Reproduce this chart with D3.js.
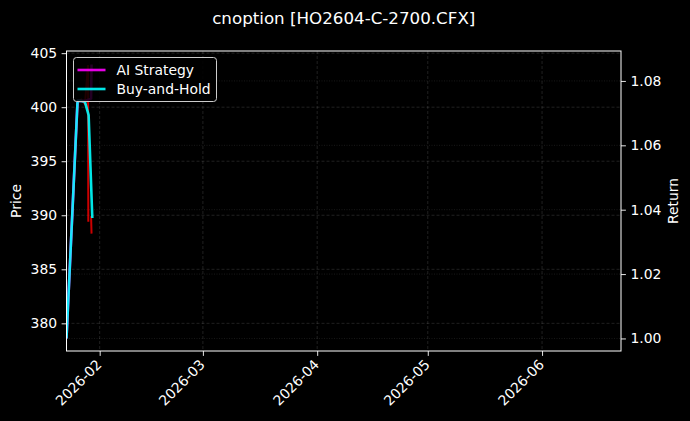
<!DOCTYPE html>
<html>
<head>
<meta charset="utf-8">
<script src="https://cdn.jsdelivr.net/npm/d3@7"></script>
<style>
  body { margin: 0; background: #000; }
  svg { display: block; }
  text { font-family: "DejaVu Sans", sans-serif; fill: #fff; }
</style>
</head>
<body>
<svg width="690" height="421"></svg>
<script>
// ---- data ----
const title = "cnoption [HO2604-C-2700.CFX]"
const xRange = ["2026-01-23 00:00", "2026-06-22 10:00"]
const xTicks = ["2026-02-01 00:00", "2026-03-01 00:00", "2026-04-01 00:00", "2026-05-01 00:00", "2026-06-01 00:00"]

const priceRange = [377.44, 405.2]
const priceTicks = [380, 385, 390, 395, 400, 405]
const returnRange = [0.9961, 1.0893]
const returnTicks = [1.00, 1.02, 1.04, 1.06, 1.08]

// option price (left axis), null = trading break
const priceTimes = ["2026-01-23 00:00", "2026-01-26 00:00", "2026-01-27 00:00", "2026-01-28 00:00",
                    "2026-01-28 20:00", "2026-01-28 22:00", "2026-01-29 04:00", "2026-01-29 16:00", "2026-01-29 19:00"]
const priceVals = [378.7, 400.5, 400.7, 400.3, 403.9, 389.4, null, 389.9, 388.3]

// AI strategy equity (right axis)
const aiTimes = ["2026-01-23 00:00", "2026-01-26 00:00", "2026-01-27 00:00", "2026-01-28 00:00",
                 "2026-01-29 16:00", "2026-01-29 19:00"]
const aiVals = [1.000, 1.0738, 1.0738, 1.0738, 1.0745, 1.0851]

// buy-and-hold equity (right axis)
const bhTimes = ["2026-01-23 00:00", "2026-01-26 00:00", "2026-01-27 00:00", "2026-01-28 00:00",
                 "2026-01-29 00:00", "2026-01-30 00:00"]
const bhVals = [1.000, 1.0738, 1.0738, 1.0735, 1.0694, 1.0374]

const legendNames = ["AI Strategy", "Buy-and-Hold"]
const legendColors = ["#ff00ff", "#00ffff"]

// ---- layout ----
const parse = d3.timeParse("%Y-%m-%d %H:%M")
const W = 690, H = 421
const L = 66.5, R = 621, T = 51, B = 351
const fs = 13.9

const svg = d3.select("svg")
svg.append("rect").attr("width", W).attr("height", H).attr("fill", "#000")

const x = d3.scaleTime().domain(xRange.map(parse)).range([L, R])
const yP = d3.scaleLinear().domain(priceRange).range([B, T])
const yR = d3.scaleLinear().domain(returnRange).range([B, T])

// grids
const grid = svg.append("g").attr("stroke", "#fff").attr("stroke-width", 0.5)
grid.selectAll(".gx").data(xTicks.map(parse)).join("line").attr("class", "gx")
  .attr("x1", d => x(d)).attr("x2", d => x(d)).attr("y1", T).attr("y2", B)
  .attr("stroke-opacity", 0.25).attr("stroke-dasharray", "3,2")
grid.selectAll(".gp").data(priceTicks).join("line").attr("class", "gp")
  .attr("x1", L).attr("x2", R).attr("y1", d => yP(d)).attr("y2", d => yP(d))
  .attr("stroke-opacity", 0.25).attr("stroke-dasharray", "3,2")
grid.selectAll(".gr").data(returnTicks).join("line").attr("class", "gr")
  .attr("x1", L).attr("x2", R).attr("y1", d => yR(d)).attr("y2", d => yR(d))
  .attr("stroke-opacity", 0.2).attr("stroke-dasharray", "1,1.5")

svg.append("clipPath").attr("id", "plot")
  .append("rect").attr("x", L).attr("y", T).attr("width", R - L).attr("height", B - T)
const plot = svg.append("g").attr("clip-path", "url(#plot)")

// price line
const priceLine = d3.line()
  .defined(d => d[1] != null)
  .x(d => x(parse(d[0]))).y(d => yP(d[1]))
plot.append("path")
  .datum(d3.zip(priceTimes, priceVals))
  .attr("d", priceLine)
  .attr("fill", "none").attr("stroke", "#ff0000").attr("stroke-opacity", 0.8)
  .attr("stroke-width", 2)

const retLine = d3.line().x(d => x(parse(d[0]))).y(d => yR(d[1]))
plot.append("path")
  .datum(d3.zip(aiTimes, aiVals))
  .attr("d", retLine)
  .attr("fill", "none").attr("stroke", legendColors[0]).attr("stroke-opacity", 0.9)
  .attr("stroke-width", 2.6).attr("stroke-linejoin", "round")
plot.append("path")
  .datum(d3.zip(bhTimes, bhVals))
  .attr("d", retLine)
  .attr("fill", "none").attr("stroke", legendColors[1]).attr("stroke-opacity", 0.9)
  .attr("stroke-width", 2.6).attr("stroke-linejoin", "round")

// axes
function styleAxis(g) {
  g.select(".domain").remove()
  g.selectAll("line").attr("stroke", "#fff").attr("stroke-width", 0.9)
  g.selectAll("text").attr("fill", "#fff").style("font-size", fs + "px")
    .style("font-family", "DejaVu Sans, sans-serif")
}

svg.append("g").attr("transform", `translate(${L},0)`)
  .call(d3.axisLeft(yP).tickValues(priceTicks).tickFormat(d3.format("d")).tickSize(4.9).tickPadding(4.5))
  .call(styleAxis)

svg.append("g").attr("transform", `translate(${R},0)`)
  .call(d3.axisRight(yR).tickValues(returnTicks).tickFormat(d3.format(".2f")).tickSize(4.9).tickPadding(4.5))
  .call(styleAxis)

const xa = svg.append("g").attr("transform", `translate(0,${B})`)
  .call(d3.axisBottom(x).tickValues(xTicks.map(parse)).tickFormat(d3.timeFormat("%Y-%m")).tickSize(4.9))
  .call(styleAxis)
xa.selectAll("text")
  .attr("text-anchor", "end")
  .attr("transform", "translate(-1,11) rotate(-45)")
  .attr("y", 0).attr("dy", "0.35em")

// frame
svg.append("rect").attr("x", L).attr("y", T).attr("width", R - L).attr("height", B - T)
  .attr("fill", "none").attr("stroke", "#fff").attr("stroke-width", 1)

// labels
svg.append("text").attr("x", (L + R) / 2).attr("y", 24).attr("text-anchor", "middle")
  .style("font-size", "16.7px").text(title)
svg.append("text").attr("transform", `translate(21,${(T + B) / 2}) rotate(-90)`)
  .attr("text-anchor", "middle").style("font-size", fs + "px").text("Price")
svg.append("text").attr("transform", `translate(678,${(T + B) / 2}) rotate(-90)`)
  .attr("text-anchor", "middle").style("font-size", fs + "px").text("Return")

// legend
const lg = svg.append("g").attr("transform", "translate(73.5,57.5)")
lg.append("rect").attr("width", 143).attr("height", 44).attr("rx", 3)
  .attr("fill", "#000").attr("fill-opacity", 0.85)
  .attr("stroke", "#ccc").attr("stroke-width", 1)
const items = lg.selectAll(".item").data(legendNames).join("g")
  .attr("transform", (d, i) => `translate(0,${12.5 + i * 19})`)
items.append("line").attr("x1", 4).attr("x2", 32)
  .attr("stroke", (d, i) => legendColors[i]).attr("stroke-width", 2.6).attr("stroke-opacity", 0.9)
items.append("text").attr("x", 43).attr("dy", "0.35em").style("font-size", fs + "px").text(d => d)
</script>
</body>
</html>
